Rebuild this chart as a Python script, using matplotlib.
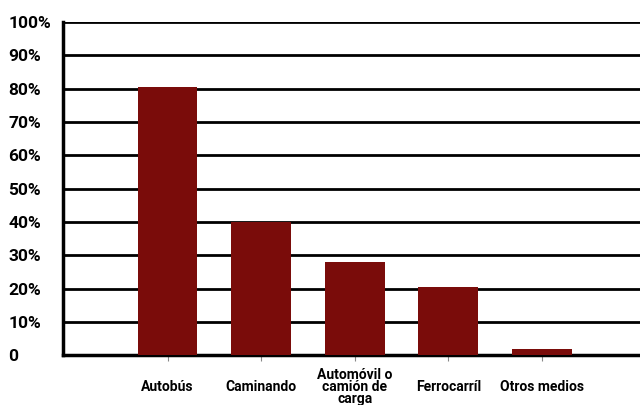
"""
Bar chart: share of trips by means of transport.
"""

import matplotlib
matplotlib.use("Agg")
import matplotlib.pyplot as plt
import numpy as np

CATEGORIES = ["Autobús", "Caminando", "Automóvil o\ncamión de\ncarga",
              "Ferrocarríl", "Otros medios"]
VALUES = [80.5, 40, 28, 20.5, 2]  # percent

Y_TICKS = np.arange(0, 101, 10)
Y_LABELS = ["0"] + [f"{v}%" for v in Y_TICKS[1:]]

BAR_COLOR = "#7a0c0a"

plt.rcParams['font.family'] = ['Roboto', 'DejaVu Sans']

fig = plt.figure(figsize=(6.4, 4.05), dpi=100)
ax = fig.add_axes([0.098, 0.123, 0.902, 0.823])

x = np.arange(len(CATEGORIES))
ax.set_axisbelow(True)
ax.yaxis.grid(True, color="black", linewidth=2.0)
ax.bar(x, VALUES, width=0.64, color=BAR_COLOR, zorder=3)

ax.set_xlim(-1.12, 5.05)
ax.set_ylim(0, 100)

ax.set_yticks(Y_TICKS)
ax.set_yticklabels(Y_LABELS, fontsize=12.5, fontweight="bold")
ax.tick_params(axis="y", length=0, pad=39)
for lbl in ax.get_yticklabels():
    lbl.set_horizontalalignment("left")

ax.set_xticks(x)
ax.set_xticklabels(CATEGORIES, fontsize=10, fontweight="bold", linespacing=0.8)
ax.tick_params(axis="x", length=4, color="#888888", pad=19)
for lbl in ax.get_xticklabels():
    lbl.set_verticalalignment("center")

for side in ("top", "right"):
    ax.spines[side].set_visible(False)
ax.spines["left"].set_linewidth(2.5)
ax.spines["bottom"].set_linewidth(2.5)

fig.savefig("out.png", dpi=100)
